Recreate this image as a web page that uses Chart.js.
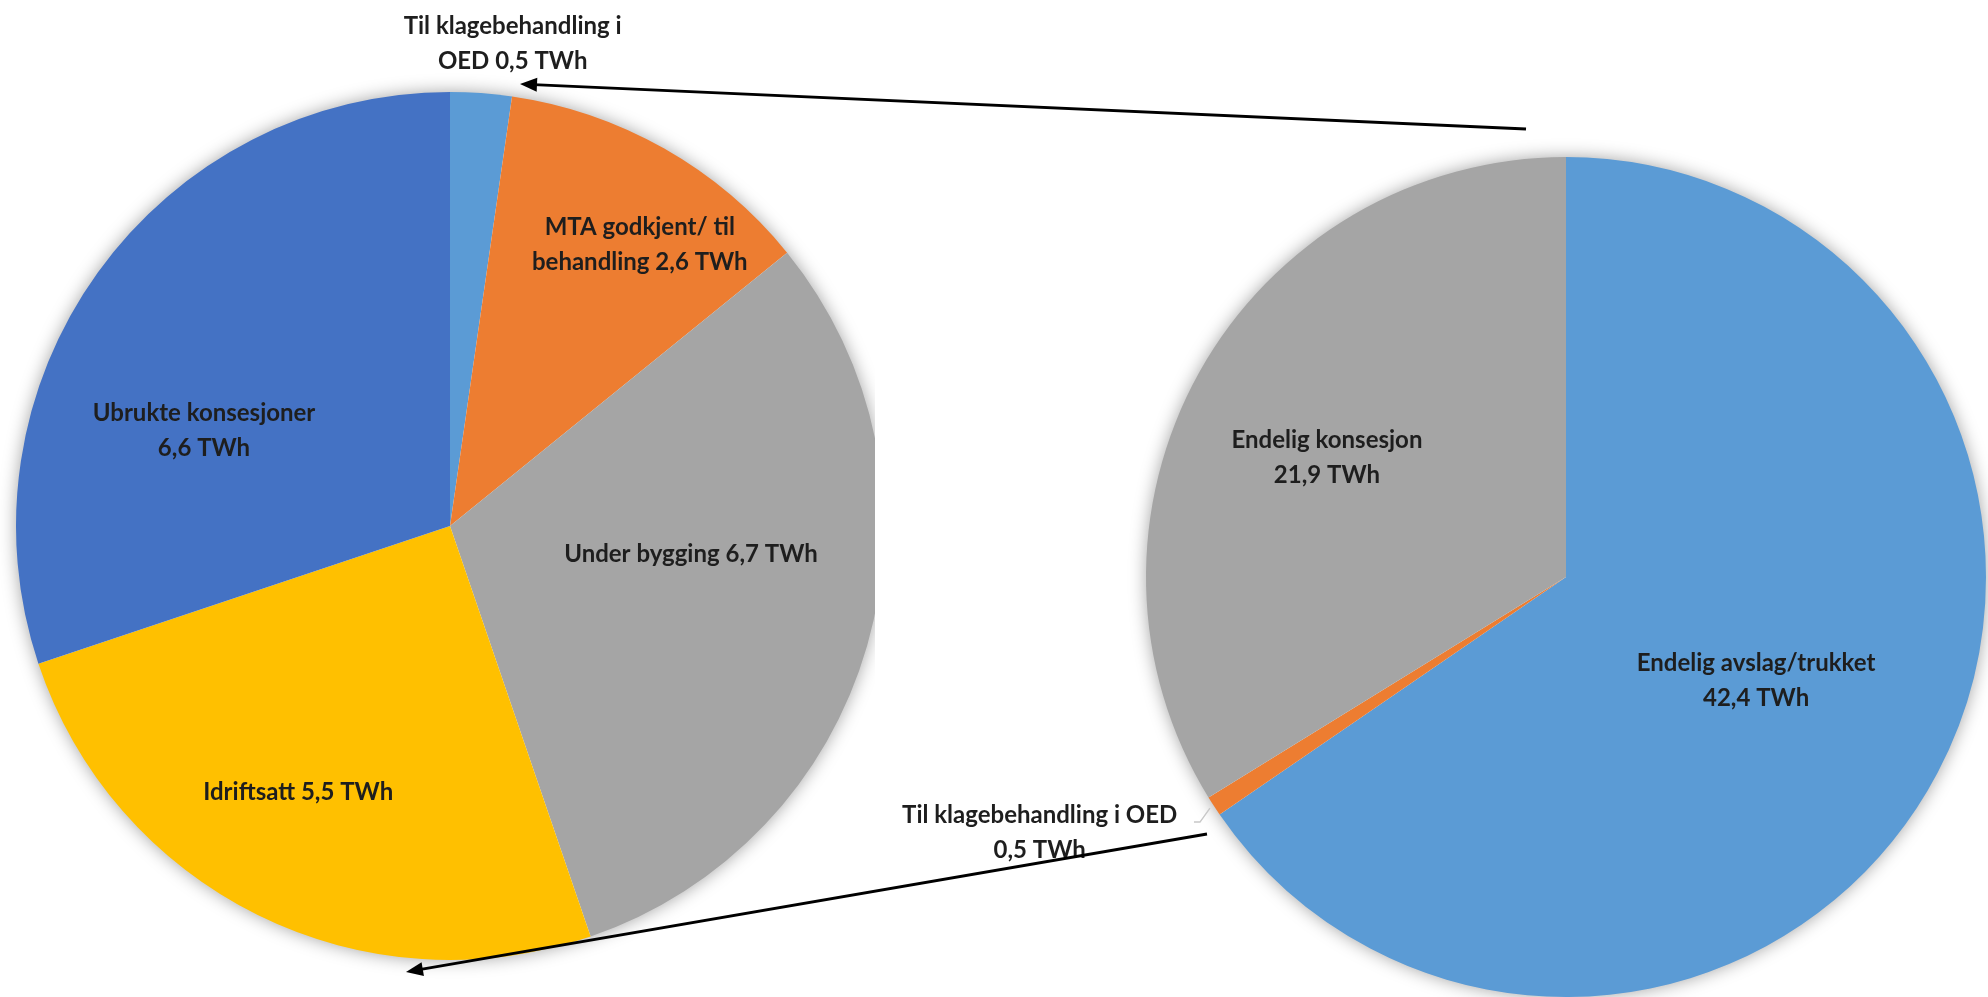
<!DOCTYPE html>
<html>
<head>
<meta charset="utf-8">
<script src="https://cdn.jsdelivr.net/npm/chart.js@4.4.1/dist/chart.umd.min.js"></script>
<style>
html, body { margin: 0; padding: 0; background: #fff; width: 1988px; height: 997px; overflow: hidden; }
#leftWrap { position: absolute; left: 0; top: 0; width: 875px; height: 997px; overflow: hidden; }
#rightWrap { position: absolute; left: 880px; top: 128px; width: 1136px; height: 900px; }
#arrows { position: absolute; left: 0; top: 0; pointer-events: none; }
</style>
</head>
<body>
<div id="leftWrap"><canvas id="leftChart" width="900" height="1052"></canvas></div>
<div id="rightWrap"><canvas id="rightChart" width="1136" height="900"></canvas></div>
<canvas id="arrows" width="1988" height="997"></canvas>
<script>
// Venstre kake: status for endelige konsesjoner (TWh)
const leftCategories = ['Til klagebehandling i OED', 'MTA godkjent/ til behandling', 'Under bygging', 'Idriftsatt', 'Ubrukte konsesjoner'];
const leftValues = [0.5, 2.6, 6.7, 5.5, 6.6];
const leftColors = ['#5B9BD5', '#ED7D31', '#A5A5A5', '#FFC000', '#4472C4'];

// Høyre kake: alle saker (TWh)
const rightCategories = ['Endelig avslag/trukket', 'Til klagebehandling i OED', 'Endelig konsesjon'];
const rightValues = [42.4, 0.5, 21.9];
const rightColors = ['#5B9BD5', '#ED7D31', '#A5A5A5'];

const fmt = v => v.toFixed(1).replace('.', ',') + ' TWh';

const leftLabels = [
    ['Til klagebehandling i', 'OED ' + fmt(leftValues[0])],
    ['MTA godkjent/ til', 'behandling ' + fmt(leftValues[1])],
    ['Under bygging ' + fmt(leftValues[2])],
    ['Idriftsatt ' + fmt(leftValues[3])],
    ['Ubrukte konsesjoner', fmt(leftValues[4])]
];
const rightLabels = [
    ['Endelig avslag/trukket', fmt(rightValues[0])],
    ['Til klagebehandling i OED', fmt(rightValues[1])],
    ['Endelig konsesjon', fmt(rightValues[2])]
];

// plassering av etiketter: [grader fra toppen, andel av radius]
const leftPlaces = [[7.4, 1.121], [34.0, 0.782], [96.6, 0.559], [209.7, 0.706], [291.2, 0.608]];
const rightPlaces = [[118.7, 0.516], [244.1, 1.393], [296.5, 0.636]];

function makeDecor(labels, places, leaderIdx) {
    return {
        id: 'pieDecor',
        beforeDatasetsDraw(chart) {
            const arc = chart.getDatasetMeta(0).data[0];
            const ctx = chart.ctx;
            ctx.save();
            ctx.shadowColor = 'rgba(0,0,0,0.4)';
            ctx.shadowBlur = 18;
            ctx.fillStyle = '#fff';
            ctx.beginPath();
            ctx.arc(arc.x, arc.y, arc.outerRadius - 1, 0, Math.PI * 2);
            ctx.fill();
            ctx.restore();
        },
        afterDatasetsDraw(chart) {
            const meta = chart.getDatasetMeta(0);
            const arc = meta.data[0];
            const ctx = chart.ctx;
            ctx.save();
            if (leaderIdx !== undefined) {
                const el = meta.data[leaderIdx];
                const mid = (el.startAngle + el.endAngle) / 2;
                const ax = el.x + Math.cos(mid) * el.outerRadius;
                const ay = el.y + Math.sin(mid) * el.outerRadius;
                ctx.strokeStyle = '#c8c8c8';
                ctx.lineWidth = 1.5;
                ctx.beginPath();
                ctx.moveTo(ax - 4, ay + 2);
                ctx.lineTo(ax - 14, ay + 16);
                ctx.lineTo(ax - 20, ay + 16);
                ctx.stroke();
            }
            ctx.font = 'bold 24px Lato';
            ctx.fillStyle = '#1e1e1e';
            ctx.textAlign = 'center';
            ctx.textBaseline = 'middle';
            labels.forEach((lines, i) => {
                const [deg, frac] = places[i];
                const a = deg * Math.PI / 180;
                const x = arc.x + Math.sin(a) * arc.outerRadius * frac;
                const y = arc.y - Math.cos(a) * arc.outerRadius * frac;
                const y0 = y - (lines.length - 1) * 35 / 2;
                lines.forEach((t, k) => ctx.fillText(t, x, y0 + k * 35));
            });
            ctx.restore();
        }
    };
}

function pieChart(id, categories, values, colors, padding, plugin) {
    return new Chart(document.getElementById(id), {
        type: 'pie',
        data: {
            labels: categories,
            datasets: [{ data: values, backgroundColor: colors, borderWidth: 0 }]
        },
        options: {
            responsive: false,
            animation: false,
            layout: { padding: padding },
            plugins: { legend: { display: false }, tooltip: { enabled: false } }
        },
        plugins: [plugin]
    });
}

pieChart('leftChart', leftCategories, leftValues, leftColors,
    { left: 16, right: 16, top: 92, bottom: 92 }, makeDecor(leftLabels, leftPlaces));
pieChart('rightChart', rightCategories, rightValues, rightColors,
    { left: 266, right: 30, top: 29, bottom: 31 }, makeDecor(rightLabels, rightPlaces, 1));

// piler mellom kakene
const actx = document.getElementById('arrows').getContext('2d');
function arrow(x1, y1, x2, y2) {
    const ang = Math.atan2(y2 - y1, x2 - x1);
    const len = 17, half = 7;
    actx.strokeStyle = '#000';
    actx.fillStyle = '#000';
    actx.lineWidth = 2.8;
    actx.beginPath();
    actx.moveTo(x1, y1);
    actx.lineTo(x2 - Math.cos(ang) * len * 0.8, y2 - Math.sin(ang) * len * 0.8);
    actx.stroke();
    actx.beginPath();
    actx.moveTo(x2, y2);
    actx.lineTo(x2 - Math.cos(ang) * len - Math.sin(ang) * half, y2 - Math.sin(ang) * len + Math.cos(ang) * half);
    actx.lineTo(x2 - Math.cos(ang) * len + Math.sin(ang) * half, y2 - Math.sin(ang) * len - Math.cos(ang) * half);
    actx.closePath();
    actx.fill();
}
arrow(1526, 129, 520, 84);
arrow(1207, 834, 406, 972);
</script>
</body>
</html>
